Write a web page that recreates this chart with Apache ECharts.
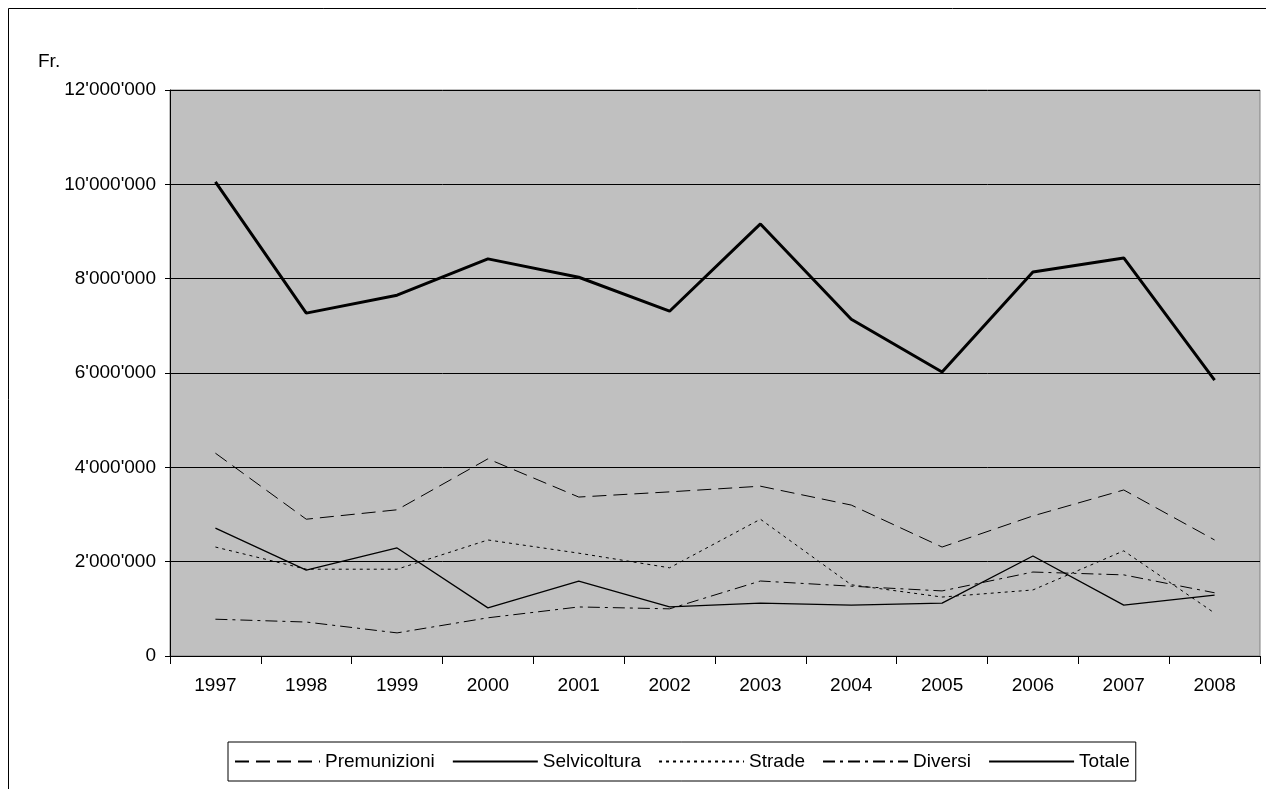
<!DOCTYPE html>
<html><head><meta charset="utf-8">
<script src="https://cdn.jsdelivr.net/npm/echarts@6/dist/echarts.min.js"></script>
<style>html,body{margin:0;padding:0;background:#fff}#c{width:1266px;height:789px}</style>
</head><body><div id="c"></div>
<script>
var years = ['1997','1998','1999','2000','2001','2002','2003','2004','2005','2006','2007','2008'];
var premunizioni = [4300000,2900000,3100000,4180000,3370000,3480000,3600000,3200000,2310000,2970000,3520000,2460000];
var selvicoltura = [2710000,1820000,2290000,1020000,1590000,1040000,1120000,1080000,1120000,2120000,1080000,1290000];
var strade = [2310000,1840000,1840000,2460000,2180000,1870000,2900000,1510000,1250000,1400000,2230000,910000];
var diversi = [780000,720000,490000,810000,1040000,1000000,1590000,1480000,1380000,1780000,1720000,1340000];
var totale = [10050000,7270000,7650000,8420000,8030000,7310000,9160000,7140000,6020000,8140000,8440000,5850000];

var chart = echarts.init(document.getElementById('c'));
var font = 'Liberation Sans, Arial, sans-serif';
function fmt(v) {
    return String(v).replace(/\B(?=(\d{3})+(?!\d))/g, "'");
}
function mk(name, data, lineStyle) {
    return { name: name, type: 'line', data: data, symbol: 'none', itemStyle: { opacity: 0 }, lineStyle: lineStyle, animation: false };
}
chart.setOption({
    animation: false,
    color: ['#000', '#000', '#000', '#000', '#000'],
    graphic: [
        { type: 'rect', shape: { x: 8.5, y: 8.5, width: 1270, height: 800 }, style: { fill: 'none', stroke: '#000', lineWidth: 1 } },
        { type: 'text', left: 38, top: 52, style: { text: 'Fr.', font: '19px ' + font, fill: '#000' } }
    ],
    grid: { left: 170, right: 6, top: 90, bottom: 133, show: true, backgroundColor: '#c0c0c0', borderColor: '#808080', borderWidth: 1 },
    legend: {
        left: 228, top: 742,
        padding: [10, 6], itemGap: 17, itemWidth: 85, itemHeight: 10,
        borderColor: '#000', borderWidth: 1,
        textStyle: { fontFamily: font, fontSize: 19, color: '#000' },
        data: ['Premunizioni', 'Selvicoltura', 'Strade', 'Diversi', 'Totale']
    },
    xAxis: {
        type: 'category', data: years, boundaryGap: true,
        axisLine: { lineStyle: { color: '#000' } },
        axisTick: { show: true, length: 8, lineStyle: { color: '#000' } },
        axisLabel: { fontFamily: font, fontSize: 19, color: '#000', margin: 20 }
    },
    yAxis: {
        type: 'value', min: 0, max: 12000000, interval: 2000000,
        axisLine: { show: true, lineStyle: { color: '#000' } },
        axisTick: { show: true, length: 5, lineStyle: { color: '#000' } },
        splitLine: { lineStyle: { color: '#000', width: 1 } },
        axisLabel: { fontFamily: font, fontSize: 19, color: '#000', margin: 14, formatter: fmt }
    },
    series: [
        mk('Premunizioni', premunizioni, { color: '#000', width: 1, type: [14, 7] }),
        mk('Selvicoltura', selvicoltura, { color: '#000', width: 1.3, type: 'solid' }),
        mk('Strade', strade, { color: '#000', width: 1, type: [3, 4] }),
        mk('Diversi', diversi, { color: '#000', width: 1, type: [12, 5, 3, 5] }),
        mk('Totale', totale, { color: '#000', width: 3, type: 'solid' })
    ]
});
</script></body></html>
